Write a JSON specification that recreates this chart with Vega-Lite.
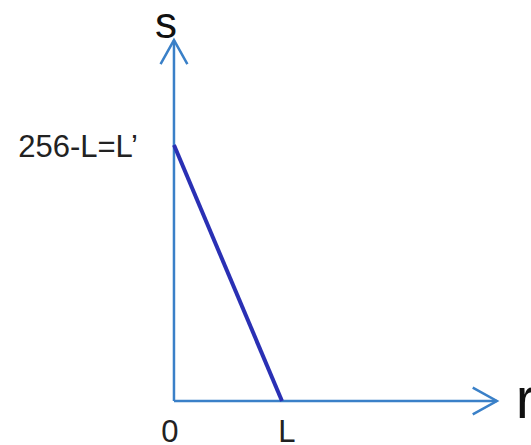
{
  "$schema": "https://vega.github.io/schema/vega-lite/v6.json",
  "width": 531,
  "height": 445,
  "padding": 0,
  "autosize": {"type": "none"},
  "background": "white",
  "config": {"view": {"stroke": null}, "font": "Liberation Sans"},
  "encoding": {
    "x": {"field": "r", "type": "quantitative", "scale": {"domain": [-161.1, 330.6], "nice": false, "zero": false}, "axis": null},
    "y": {"field": "s", "type": "quantitative", "scale": {"domain": [-26.8, 244.4], "nice": false, "zero": false}, "axis": null}
  },
  "layer": [
    {
      "description": "coordinate axes r and s",
      "data": {"values": [
        {"r": 0, "s": 0, "r2": 299, "s2": 0},
        {"r": 0, "s": 0, "r2": 0, "s2": 220}
      ]},
      "mark": {"type": "rule", "color": "#3a80c8", "strokeWidth": 2.5},
      "encoding": {
        "x2": {"field": "r2"},
        "y2": {"field": "s2"}
      }
    },
    {
      "description": "open arrowheads at the axis ends",
      "data": {"values": [
        {"r": 299, "s": 0, "angle": 90},
        {"r": 0, "s": 220, "angle": 0}
      ]},
      "mark": {"type": "point", "shape": "M-1,1.8L0,0L1,1.8", "filled": false, "size": 720, "stroke": "#3a80c8", "strokeWidth": 2.5, "opacity": 1},
      "encoding": {
        "angle": {"field": "angle", "type": "quantitative", "scale": null}
      }
    },
    {
      "description": "transformation s = L' - (L'/L) r",
      "data": {"values": [
        {"r": 0, "s": 156},
        {"r": 100, "s": 0}
      ]},
      "mark": {"type": "line", "color": "#2a30b4", "strokeWidth": 4}
    },
    {
      "data": {"values": [{"r": 0, "s": 220, "label": "s"}]},
      "mark": {"type": "text", "baseline": "alphabetic", "align": "center", "color": "#111111", "fontSize": 44, "dx": -8, "dy": -2},
      "encoding": {"text": {"field": "label"}}
    },
    {
      "data": {"values": [{"r": 299, "s": 0, "label": "r"}]},
      "mark": {"type": "text", "baseline": "alphabetic", "align": "left", "color": "#111111", "fontSize": 58, "dx": 19, "dy": 17},
      "encoding": {"text": {"field": "label"}}
    },
    {
      "data": {"values": [{"r": 0, "s": 0, "label": "0"}]},
      "mark": {"type": "text", "baseline": "alphabetic", "align": "center", "color": "#222222", "fontSize": 31, "dx": -4, "dy": 41},
      "encoding": {"text": {"field": "label"}}
    },
    {
      "data": {"values": [{"r": 100, "s": 0, "label": "L"}]},
      "mark": {"type": "text", "baseline": "alphabetic", "align": "center", "color": "#222222", "fontSize": 31, "dx": 5, "dy": 41},
      "encoding": {"text": {"field": "label"}}
    },
    {
      "data": {"values": [{"r": 0, "s": 156, "label": "256-L=L’"}]},
      "mark": {"type": "text", "baseline": "alphabetic", "align": "right", "color": "#222222", "fontSize": 31, "dx": -36, "dy": 12},
      "encoding": {"text": {"field": "label"}}
    }
  ]
}
